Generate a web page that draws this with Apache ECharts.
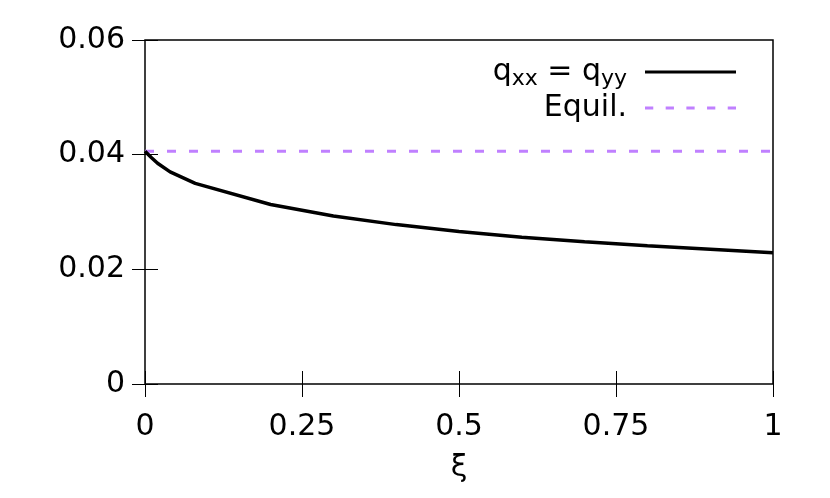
<!DOCTYPE html>
<html><head><meta charset="utf-8">
<script src="https://cdn.jsdelivr.net/npm/echarts@6/dist/echarts.min.js"></script>
<style>html,body{margin:0;padding:0;background:#fff}#c{width:830px;height:498px}</style>
</head><body><div id="c"></div>
<script>
const xiValues = [0, 0.01, 0.02, 0.04, 0.08, 0.2, 0.3, 0.4, 0.5, 0.6, 0.7, 0.8, 0.9, 1.0];
const qValues = [0.0406, 0.0395, 0.0385, 0.0370, 0.0350, 0.0313, 0.0293, 0.0278, 0.0266, 0.0256, 0.0248, 0.0241, 0.0235, 0.0229];
const equilX = [0, 1];
const equilValue = 0.0406;
const xTicks = [0, 0.25, 0.5, 0.75, 1];
const yTicks = [0, 0.02, 0.04, 0.06];
const seriesNames = ['q', 'Equil.'];

const font = 'DejaVu Sans';
const fs = 30;
const purple = '#c080ff';
// legend icon shapes (91 x 3 units)
let dashPath = 'path://';
for (let x = 0; x < 91; x += 20) dashPath += 'M' + x + ',0H' + Math.min(x + 8, 91) + 'V3H' + x + 'Z';
const solidPath = 'path://M0,0H91V3H0Z';

const chart = echarts.init(document.getElementById('c'), null, {renderer: 'canvas'});
const tickStyle = {show: true, inside: true, length: 13, lineStyle: {color: '#000', width: 1}};
chart.setOption({
  animation: false,
  grid: {left: 145, right: 57, top: 40, bottom: 114, show: true, borderColor: '#000', borderWidth: 1.5},
  legend: {
    orient: 'vertical', right: 89, top: 49, align: 'right', itemWidth: 91, itemHeight: 3.5, itemGap: 0,
    data: [{name: seriesNames[0], icon: solidPath}, {name: seriesNames[1], icon: dashPath}],
    formatter: n => n === 'q' ? '{m|q}{s|xx}{m| = q}{s|yy}' : '{m|' + n + '}',
    textStyle: {fontFamily: font, fontSize: fs, color: '#000', padding: [0, 13, 0, 0], lineHeight: 36,
      rich: {m: {fontFamily: font, fontSize: fs, color: '#000', lineHeight: 36}, s: {fontFamily: font, fontSize: 22, color: '#000', verticalAlign: 'bottom', padding: [12, 0, 0, 0], lineHeight: 36}}}
  },
  xAxis: [{
    type: 'value', min: 0, max: 1, interval: 0.25, position: 'bottom',
    name: 'ξ', nameLocation: 'middle', nameGap: 69,
    nameTextStyle: {fontFamily: font, fontSize: fs, color: '#000'},
    axisLine: {show: false}, axisTick: tickStyle, splitLine: {show: false},
    axisLabel: {fontFamily: font, fontSize: fs, color: '#000', margin: 28,
      formatter: v => xTicks.includes(v) ? String(v) : ''}
  }, {
    type: 'value', min: 0, max: 1, interval: 0.25, position: 'top',
    axisLine: {show: false}, axisTick: tickStyle, splitLine: {show: false}, axisLabel: {show: false}
  }],
  yAxis: [{
    type: 'value', min: 0, max: 0.06, interval: 0.02, position: 'left',
    axisLine: {show: false}, axisTick: tickStyle, splitLine: {show: false},
    axisLabel: {fontFamily: font, fontSize: fs, color: '#000', margin: 20,
      formatter: v => yTicks.includes(+v.toFixed(2)) ? String(+v.toFixed(2)) : ''}
  }, {
    type: 'value', min: 0, max: 0.06, interval: 0.02, position: 'right',
    axisLine: {show: false}, axisTick: tickStyle, splitLine: {show: false}, axisLabel: {show: false}
  }],
  series: [{
    name: seriesNames[0], type: 'line', showSymbol: false, symbol: 'none',
    data: xiValues.map((x, i) => [x, qValues[i]]),
    lineStyle: {color: '#000', width: 3.5}, itemStyle: {color: '#000'}, z: 3
  }, {
    name: seriesNames[1], type: 'line', showSymbol: false, symbol: 'none',
    data: equilX.map(x => [x, equilValue]),
    lineStyle: {color: purple, width: 3, type: [9, 13]}, itemStyle: {color: purple}, z: 2
  }]
});
</script></body></html>
